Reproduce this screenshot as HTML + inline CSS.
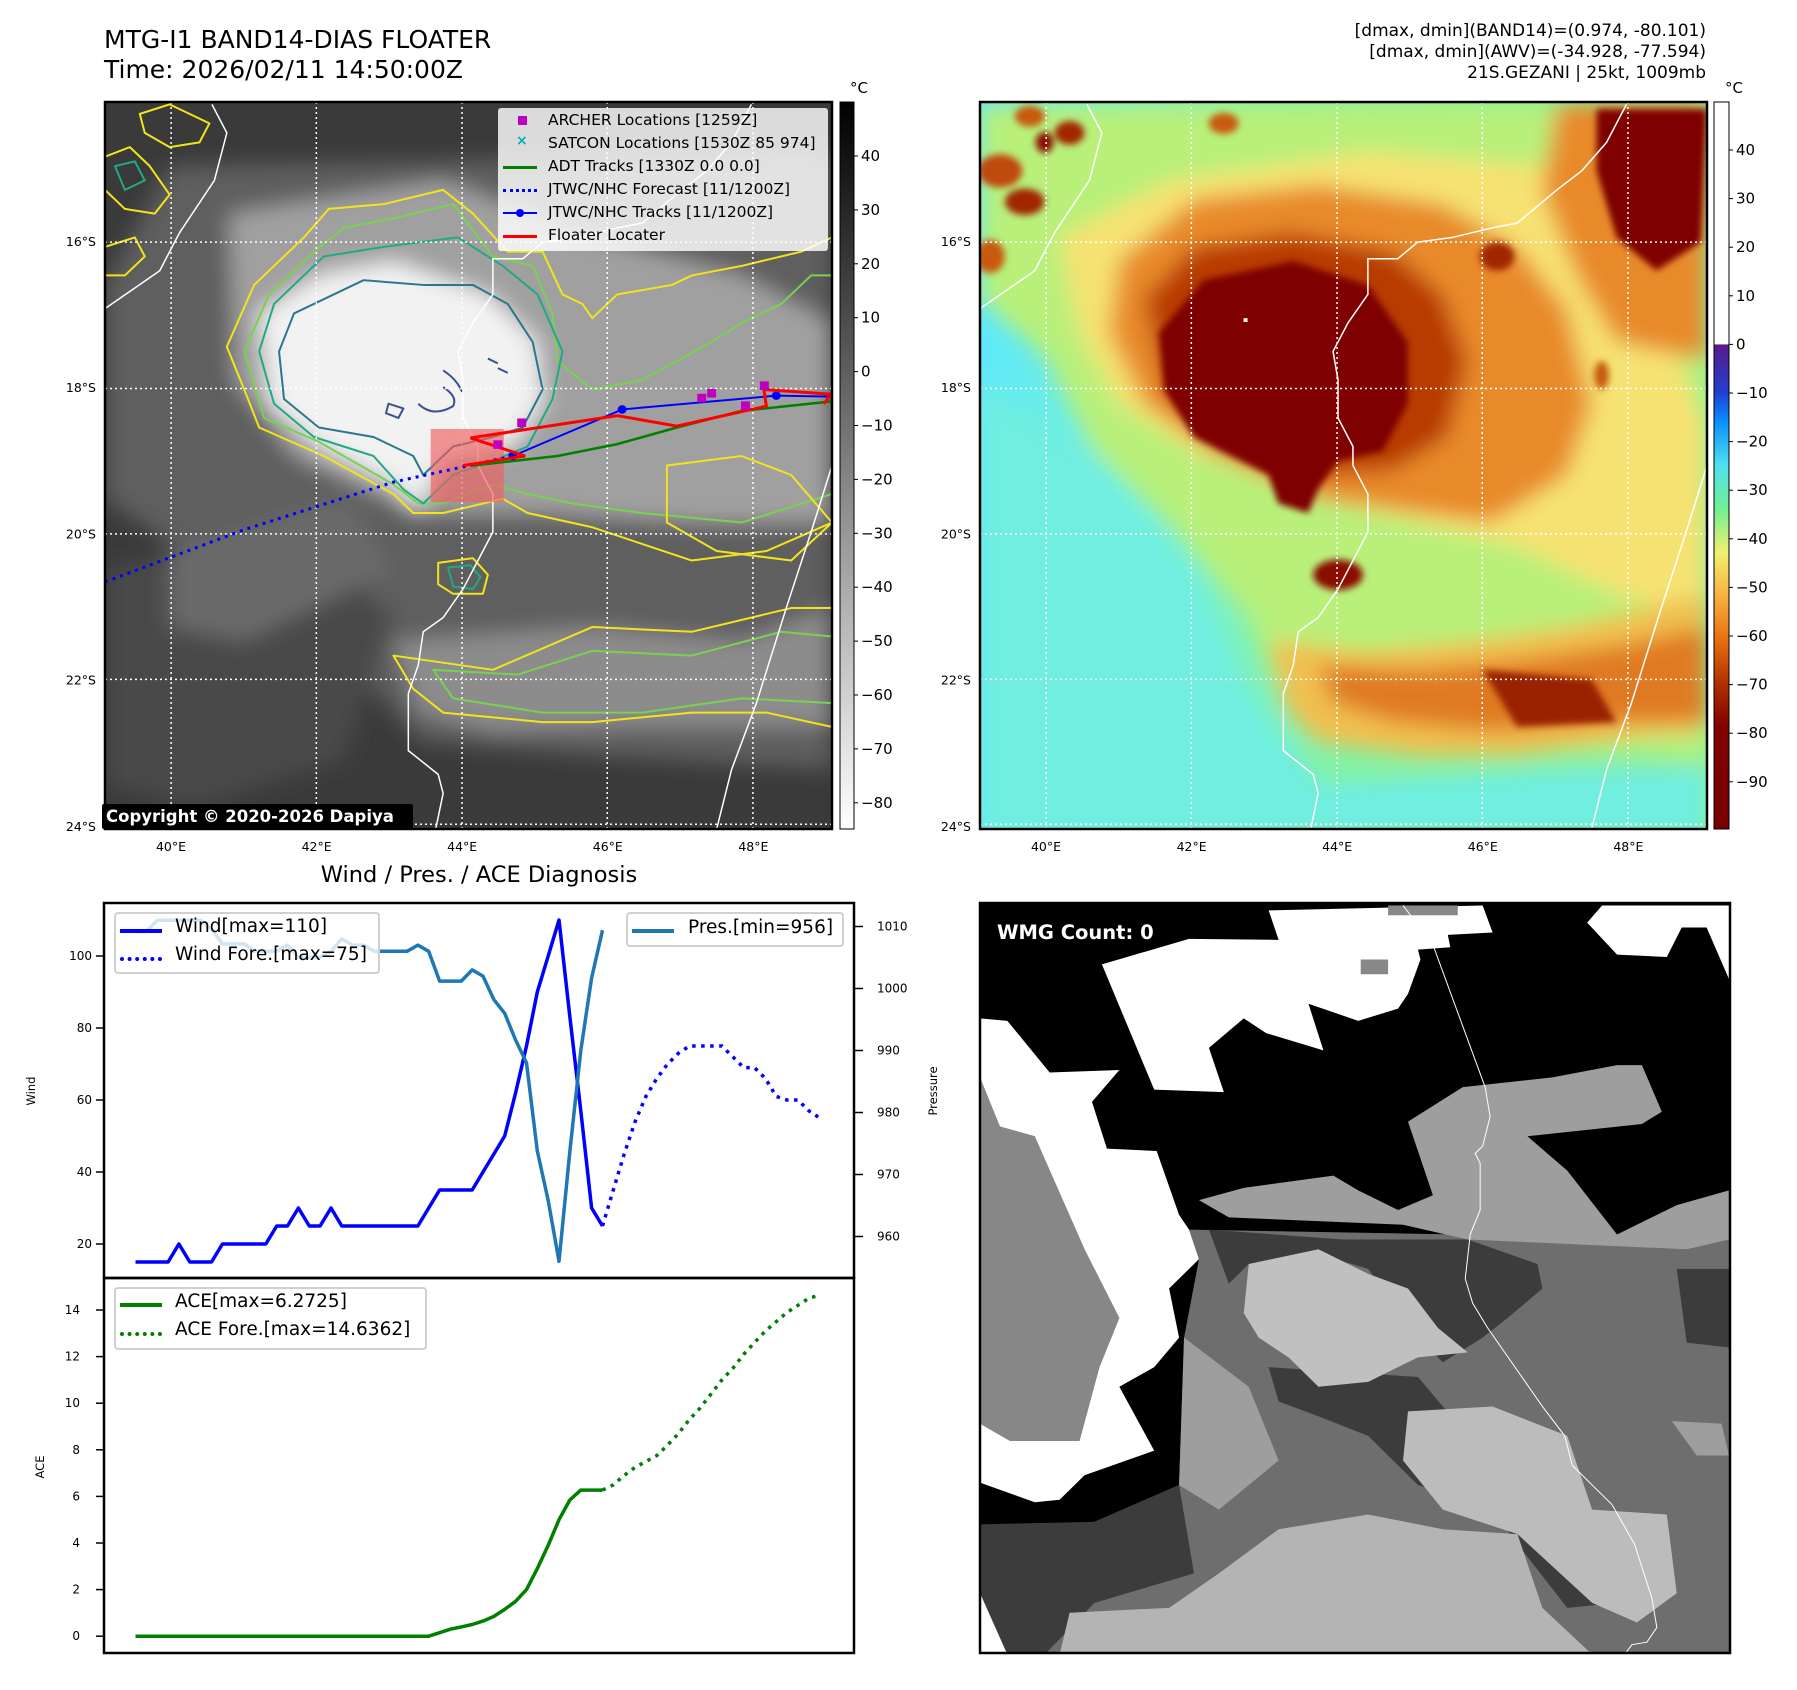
<!DOCTYPE html>
<html><head><meta charset="utf-8">
<style>
html,body{margin:0;padding:0;background:#fff;}
body{width:1797px;height:1690px;position:relative;overflow:hidden;font-family:"DejaVu Sans","Liberation Sans",sans-serif;}
svg text{font-family:"DejaVu Sans","Liberation Sans",sans-serif;}
.abs{position:absolute;white-space:nowrap;}
</style></head>
<body>
<div class="abs" style="left:104px;top:25px;font-size:25px;line-height:30px;color:#000;">MTG-I1 BAND14-DIAS FLOATER<br>Time: 2026/02/11 14:50:00Z</div>
<div class="abs" style="right:91px;top:21px;font-size:17px;line-height:21px;text-align:right;color:#000;">[dmax, dmin](BAND14)=(0.974, -80.101)<br>[dmax, dmin](AWV)=(-34.928, -77.594)<br>21S.GEZANI | 25kt, 1009mb</div>

<svg id="page" width="1797" height="1690" style="position:absolute;left:0;top:0" xmlns="http://www.w3.org/2000/svg">
<defs>
<filter id="bl" filterUnits="userSpaceOnUse" x="-200" y="-200" width="2000" height="2000"><feGaussianBlur stdDeviation="22"/></filter>
<filter id="bl2" filterUnits="userSpaceOnUse" x="-200" y="-200" width="2000" height="2000"><feGaussianBlur stdDeviation="7"/></filter>
<linearGradient id="grayBar" x1="0" y1="0" x2="0" y2="1"><stop offset="0" stop-color="#000"/><stop offset="1" stop-color="#fff"/></linearGradient>
<linearGradient id="awvBar" x1="0" y1="0" x2="0" y2="1">
<stop offset="0" stop-color="#fff"/><stop offset="0.333" stop-color="#fff"/>
<stop offset="0.334" stop-color="#5a1a8a"/><stop offset="0.40" stop-color="#2040d0"/>
<stop offset="0.44" stop-color="#0a90ff"/><stop offset="0.50" stop-color="#50e0f0"/>
<stop offset="0.56" stop-color="#70f090"/><stop offset="0.62" stop-color="#f0f070"/>
<stop offset="0.68" stop-color="#f8b040"/><stop offset="0.74" stop-color="#e87010"/>
<stop offset="0.80" stop-color="#b03000"/><stop offset="0.86" stop-color="#800000"/><stop offset="1" stop-color="#7a0000"/>
</linearGradient>
<linearGradient id="cyanL" x1="0" y1="0" x2="1" y2="0"><stop offset="0" stop-color="#5ce8ff"/><stop offset="0.45" stop-color="#70f4e0" stop-opacity="0.6"/><stop offset="1" stop-color="#80f0a0" stop-opacity="0"/></linearGradient>
</defs>

<!-- ============ LEFT MAP (IR) ============ -->
<g>
<svg x="105" y="102" width="727" height="727" viewBox="20 15 1462 1530" preserveAspectRatio="none" overflow="hidden">
<rect x="0" y="0" width="1600" height="1600" fill="#3a3a3a"/>
<g filter="url(#bl)">
<polygon fill="#5e5e5e" points="150,150 1482,120 1482,1420 1000,1390 650,1360 480,1150 200,980 20,850 20,400"/>
<polygon fill="#4a4a4a" points="20,1000 400,900 600,1100 500,1400 200,1500 20,1450"/>
<polygon fill="#a0a0a0" points="270,250 700,180 1000,300 1300,380 1482,480 1482,900 1200,900 900,880 650,880 400,760 280,600"/>
<polygon fill="#8c8c8c" points="600,1150 1000,1120 1300,1150 1482,1080 1482,1330 1100,1330 800,1340 650,1300"/>
<polygon fill="#6a6a6a" points="150,960 500,850 600,1000 300,1150 150,1120"/>
<polygon fill="#f2f2f2" points="330,460 450,380 600,350 790,420 890,520 900,650 840,740 700,770 650,880 600,820 450,740 350,650"/>
</g>
<g fill="none" stroke-width="2" stroke-linejoin="round">
<polygon stroke="#f2e41c" vector-effect="non-scaling-stroke" points="265,530 320,400 420,300 470,240 580,230 700,200 760,250 830,330 900,330 940,420 980,440 1000,470 1050,420 1160,400 1200,380 1300,360 1420,330 1482,300 1482,900 1350,960 1200,980 1000,910 870,880 820,850 700,880 640,880 600,840 460,760 330,700 300,620"/>
<polygon stroke="#7ad151" vector-effect="non-scaling-stroke" points="300,540 350,420 440,330 500,280 600,260 720,230 800,340 880,360 920,460 930,560 1000,620 1100,600 1240,520 1300,480 1380,440 1440,380 1482,380 1482,840 1300,900 1100,880 960,860 870,840 800,820 700,860 650,860 600,820 450,730 340,680"/>
<polygon stroke="#22a884" vector-effect="non-scaling-stroke" points="330,540 360,440 460,340 580,320 730,300 820,360 890,420 940,540 920,640 870,740 800,770 720,800 660,860 620,830 560,760 440,720 360,650"/>
<polygon stroke="#2a788e" vector-effect="non-scaling-stroke" points="370,540 400,460 480,420 540,390 660,400 760,400 830,440 880,520 900,620 860,700 800,720 720,740 660,800 640,760 560,720 450,700 380,640"/>
<path stroke="#3b528b" vector-effect="non-scaling-stroke" d="M590,650 l30,10 -10,20 -25,-10z M650,650 q30,30 70,5 q10,-20 -20,-40 M700,580 q30,20 40,50 M790,555 l20,10 M810,575 l20,10"/>
<polygon stroke="#f2e41c" vector-effect="non-scaling-stroke" points="600,1180 800,1210 1000,1120 1200,1130 1400,1080 1482,1080 1482,1330 1350,1300 1200,1300 1000,1320 900,1320 700,1300 640,1250"/>
<polygon stroke="#7ad151" vector-effect="non-scaling-stroke" points="680,1210 850,1220 1000,1170 1200,1180 1380,1130 1482,1140 1482,1280 1300,1270 1100,1300 900,1300 720,1270"/>
<polygon stroke="#f2e41c" vector-effect="non-scaling-stroke" points="690,985 760,975 790,1010 780,1050 720,1050 690,1030"/>
<polygon stroke="#22a884" vector-effect="non-scaling-stroke" points="710,995 755,990 775,1015 760,1040 720,1035"/>
<polygon stroke="#f2e41c" vector-effect="non-scaling-stroke" points="20,130 70,110 110,150 150,210 120,250 60,240 20,200"/>
<polygon stroke="#f2e41c" vector-effect="non-scaling-stroke" points="90,40 150,20 230,60 210,100 150,110 100,80"/>
<polygon stroke="#22a884" vector-effect="non-scaling-stroke" points="40,150 80,140 100,180 60,200"/>
<polygon stroke="#f2e41c" vector-effect="non-scaling-stroke" points="20,320 80,300 100,340 60,380 20,380"/>
<polygon stroke="#f2e41c" vector-effect="non-scaling-stroke" points="1150,780 1300,760 1400,800 1482,900 1400,980 1250,960 1150,900"/>
</g>
<g fill="none" stroke="#fff" stroke-width="1.5">
<polyline vector-effect="non-scaling-stroke" points="235,20 265,80 240,180 170,290 130,370 20,450"/>
<polyline vector-effect="non-scaling-stroke" points="1320,20 1280,100 1230,160 1180,200 1100,270 1050,280 970,300 900,310 860,345 800,345 800,420 760,480 730,540 740,600 740,680 770,740 770,780 800,840 800,920 770,980 740,1040 700,1100 660,1130 650,1200 630,1260 630,1380 690,1430 700,1470 685,1545"/>
<polyline vector-effect="non-scaling-stroke" points="1482,780 1440,920 1390,1080 1330,1280 1280,1420 1250,1545"/>
</g>
<g stroke="#fff" stroke-width="1.5" stroke-dasharray="2 3">
<line vector-effect="non-scaling-stroke" x1="153" y1="15" x2="153" y2="1545"/><line vector-effect="non-scaling-stroke" x1="445" y1="15" x2="445" y2="1545"/><line vector-effect="non-scaling-stroke" x1="738" y1="15" x2="738" y2="1545"/><line vector-effect="non-scaling-stroke" x1="1030" y1="15" x2="1030" y2="1545"/><line vector-effect="non-scaling-stroke" x1="1323" y1="15" x2="1323" y2="1545"/>
<line vector-effect="non-scaling-stroke" x1="20" y1="310" x2="1482" y2="310"/><line vector-effect="non-scaling-stroke" x1="20" y1="618" x2="1482" y2="618"/><line vector-effect="non-scaling-stroke" x1="20" y1="924" x2="1482" y2="924"/><line vector-effect="non-scaling-stroke" x1="20" y1="1230" x2="1482" y2="1230"/><line vector-effect="non-scaling-stroke" x1="20" y1="1535" x2="1482" y2="1535"/>
</g>
<rect x="675" y="703" width="147" height="154" fill="#f06060" fill-opacity="0.65"/>
<polyline points="20,1025 300,915 600,815 840,760" fill="none" stroke="#0000ff" stroke-width="3" stroke-dasharray="3 5" vector-effect="non-scaling-stroke"/>
<polyline points="760,780 930,760 1050,735 1170,700 1300,665 1482,645" fill="none" stroke="#008000" stroke-width="2.5" vector-effect="non-scaling-stroke"/>
<polyline points="840,760 1060,662 1370,633 1482,635" fill="none" stroke="#0000ff" stroke-width="2" vector-effect="non-scaling-stroke"/>
<g fill="#0000ff"><ellipse cx="840" cy="760" rx="9" ry="9"/><ellipse cx="1060" cy="662" rx="9" ry="9"/><ellipse cx="1370" cy="633" rx="9" ry="9"/></g>
<polyline points="740,780 865,760 755,722 1050,675 1170,697 1350,655 1345,620 1482,630 1465,650" fill="none" stroke="#ff0000" stroke-width="3" vector-effect="non-scaling-stroke"/>
<g fill="#c000c0"><rect x="849" y="681" width="18" height="18"/><rect x="801" y="727" width="18" height="18"/><rect x="1211" y="629" width="18" height="18"/><rect x="1231" y="619" width="18" height="18"/><rect x="1337" y="603" width="18" height="18"/><rect x="1299" y="645" width="18" height="18"/></g>
</svg>
<rect x="105" y="102" width="727" height="727" fill="none" stroke="#000" stroke-width="2.5"/>
</g>

<!-- ============ RIGHT MAP (AWV) ============ -->
<g>
<svg x="980" y="102" width="727" height="727" viewBox="20 15 1462 1530" preserveAspectRatio="none" overflow="hidden">
<rect x="0" y="0" width="1600" height="1600" fill="#88f09a"/>
<rect x="0" y="0" width="1000" height="1600" fill="url(#cyanL)"/>
<g filter="url(#bl)">
<polygon fill="#70eee0" points="20,600 250,760 450,1000 560,1250 700,1450 1200,1420 1482,1420 1482,1560 20,1560"/>
<polygon fill="#b8f07a" points="20,20 1482,20 1482,1400 1300,1380 1000,1380 700,1360 620,1250 560,1100 400,900 250,750 150,550 20,430"/>
<polygon fill="#f6e272" points="180,300 400,180 800,120 1150,150 1300,300 1400,500 1482,700 1482,1100 1300,1050 1100,950 900,900 700,850 450,750 300,650 220,500"/>
<polygon fill="#e88a2a" points="300,350 450,220 700,190 950,230 1100,320 1200,450 1250,650 1200,800 1050,900 900,880 700,850 500,760 350,650 280,500"/>
<polygon fill="#b83a05" points="350,430 450,320 650,290 850,330 950,420 1000,560 960,720 850,790 700,800 500,740 400,640"/>
<polygon fill="#e88a2a" points="1180,20 1482,20 1482,560 1300,520 1220,380 1150,200"/>
<polygon fill="#f0c050" points="600,1150 800,1170 1000,1150 1200,1120 1482,1050 1482,1340 1350,1350 1100,1390 900,1390 700,1360 640,1300"/>
<polygon fill="#e07a20" points="700,1200 900,1210 1100,1190 1300,1160 1482,1120 1482,1320 1300,1320 1050,1340 850,1320 730,1280"/>
</g>
<g filter="url(#bl2)">
<polygon fill="#7e0000" points="380,500 470,390 650,350 800,400 880,520 880,650 830,750 740,770 700,830 680,880 620,860 600,800 450,720 390,620"/>
<polygon fill="#7e0000" points="1260,30 1482,30 1470,310 1380,370 1300,300 1260,160"/>
<polygon fill="#9a2000" points="1030,1210 1250,1230 1300,1320 1100,1330"/>
<ellipse fill="#8a1000" cx="740" cy="1010" rx="50" ry="32"/>
<ellipse fill="#a02800" cx="200" cy="80" rx="30" ry="25"/><ellipse fill="#8a1000" cx="150" cy="100" rx="18" ry="22"/>
<ellipse fill="#c04a10" cx="60" cy="160" rx="45" ry="35"/><ellipse fill="#a02800" cx="110" cy="225" rx="40" ry="28"/>
<ellipse fill="#c85a10" cx="40" cy="340" rx="30" ry="35"/><ellipse fill="#c85a10" cx="120" cy="45" rx="30" ry="22"/>
<ellipse fill="#c85a10" cx="510" cy="60" rx="30" ry="22"/>
<ellipse fill="#a02800" cx="1060" cy="340" rx="35" ry="30"/>
<ellipse fill="#c85a10" cx="1270" cy="590" rx="15" ry="30"/>
</g>
<rect x="550" y="470" width="8" height="8" fill="#fff"/>
<g fill="none" stroke="#fff" stroke-width="1.5">
<polyline vector-effect="non-scaling-stroke" points="235,20 265,80 240,180 170,290 130,370 20,450"/>
<polyline vector-effect="non-scaling-stroke" points="1320,20 1280,100 1230,160 1180,200 1100,270 1050,280 970,300 900,310 860,345 800,345 800,420 760,480 730,540 740,600 740,680 770,740 770,780 800,840 800,920 770,980 740,1040 700,1100 660,1130 650,1200 630,1260 630,1380 690,1430 700,1470 685,1545"/>
<polyline vector-effect="non-scaling-stroke" points="1482,780 1440,920 1390,1080 1330,1280 1280,1420 1250,1545"/>
</g>
<g stroke="#fff" stroke-width="1.5" stroke-dasharray="2 3">
<line vector-effect="non-scaling-stroke" x1="153" y1="15" x2="153" y2="1545"/><line vector-effect="non-scaling-stroke" x1="445" y1="15" x2="445" y2="1545"/><line vector-effect="non-scaling-stroke" x1="738" y1="15" x2="738" y2="1545"/><line vector-effect="non-scaling-stroke" x1="1030" y1="15" x2="1030" y2="1545"/><line vector-effect="non-scaling-stroke" x1="1323" y1="15" x2="1323" y2="1545"/>
<line vector-effect="non-scaling-stroke" x1="20" y1="310" x2="1482" y2="310"/><line vector-effect="non-scaling-stroke" x1="20" y1="618" x2="1482" y2="618"/><line vector-effect="non-scaling-stroke" x1="20" y1="924" x2="1482" y2="924"/><line vector-effect="non-scaling-stroke" x1="20" y1="1230" x2="1482" y2="1230"/><line vector-effect="non-scaling-stroke" x1="20" y1="1535" x2="1482" y2="1535"/>
</g>
</svg>
<rect x="980" y="102" width="727" height="727" fill="none" stroke="#000" stroke-width="2.5"/>
</g>

<!-- colorbars -->
<rect x="840" y="102" width="14" height="727" fill="url(#grayBar)" stroke="#000" stroke-width="1"/>
<rect x="1714" y="102" width="15" height="727" fill="url(#awvBar)" stroke="#000" stroke-width="1"/>
<text x="850" y="93" font-size="15">°C</text>
<text x="1725" y="93" font-size="15">°C</text>
<g id="cbTicks" font-size="15"></g>
<g id="mapTicks" font-size="12.5"></g>

<!-- ============ BOTTOM RIGHT (WMG) ============ -->
<g>
<svg x="980" y="903" width="750" height="750" viewBox="20 15 1507 1527" preserveAspectRatio="none" overflow="hidden">
<rect x="0" y="0" width="1600" height="1600" fill="#000"/>
<polygon fill="#6e6e6e" points="440,680 1525,700 1525,1545 75,1545 20,1420 20,1300 120,1300 250,1275 420,1200 430,900 460,740"/>
<polygon fill="#878787" points="20,370 60,470 130,490 230,720 300,860 260,960 220,1110 80,1110 20,1075"/>
<polygon fill="#9e9e9e" points="460,620 550,595 730,570 780,600 860,640 930,610 880,460 990,390 1170,370 1300,345 1350,345 1390,440 1350,465 1120,490 1200,560 1300,690 1420,630 1525,600 1525,700 1440,720 1000,700 870,670 520,655"/>
<polygon fill="#9e9e9e" points="430,900 560,1000 620,1150 500,1250 420,1200"/>
<polygon fill="#3c3c3c" points="480,680 750,700 1000,700 1140,750 1150,800 1080,860 1030,900 950,950 900,900 800,760 700,730 560,750 520,790"/>
<polygon fill="#3c3c3c" points="1420,760 1525,760 1525,920 1440,910"/>
<polygon fill="#3c3c3c" points="600,960 900,980 1000,1100 1200,1160 1250,1250 1300,1440 1200,1450 1100,1320 1050,1250 900,1200 800,1100 700,1060 620,1030"/>
<polygon fill="#3c3c3c" points="20,1280 250,1275 420,1200 450,1380 250,1440 150,1545 75,1545 20,1420"/>
<polygon fill="#c0c0c0" points="560,750 700,720 800,770 880,800 940,880 1000,930 900,940 800,990 700,1000 640,940 580,900 550,850"/>
<polygon fill="#b4b4b4" points="620,1290 800,1260 950,1290 1100,1300 1150,1450 1250,1545 500,1545 180,1545 200,1460 400,1450 500,1380"/>
<polygon fill="#bcbcbc" points="880,1050 1050,1040 1200,1100 1250,1250 1400,1260 1420,1420 1340,1480 1250,1440 1100,1300 950,1250 870,1150"/>
<polygon fill="#9e9e9e" points="1410,1070 1510,1075 1525,1140 1460,1140"/>
<polygon fill="#fff" points="600,30 1030,20 1050,75 960,80 965,105 900,110 905,130 880,200 860,230 780,255 680,220 710,315 595,280 550,250 480,310 510,400 370,395 265,140 440,88 620,90"/>
<polygon fill="#fff" points="1270,20 1525,20 1525,170 1480,65 1430,65 1400,125 1300,120 1240,55"/>
<polygon fill="#fff" points="20,250 75,255 160,360 300,355 245,420 275,515 375,520 420,650 440,680 460,740 400,800 420,900 370,960 300,1000 370,1130 230,1180 180,1230 130,1235 20,1195 20,1075 80,1110 220,1110 260,960 300,860 230,720 130,490 60,470 20,370"/>
<polygon fill="#fff" points="20,1420 75,1545 20,1545"/>
<rect x="785" y="130" width="55" height="30" fill="#888"/>
<rect x="840" y="20" width="140" height="20" fill="#888"/>
<polyline fill="none" stroke="#fff" stroke-width="1" vector-effect="non-scaling-stroke" points="870,20 930,100 1035,390 1045,450 1030,510 1015,525 1025,545 1025,640 1005,690 995,780 1010,830 1040,880 1150,1040 1195,1100 1210,1160 1290,1240 1335,1320 1370,1430 1380,1490 1360,1520 1330,1525 1315,1545"/>
</svg>
<rect x="980" y="903" width="750" height="750" fill="none" stroke="#000" stroke-width="2.5"/>
<text x="997" y="939" font-size="19.5" font-weight="bold" fill="#fff">WMG Count: 0</text>
</g>

<!-- ============ DIAGNOSIS CHART ============ -->
<text x="479" y="882" font-size="22.5" text-anchor="middle">Wind / Pres. / ACE Diagnosis</text>
<g id="diag"></g>
<rect x="104" y="903" width="750" height="375" fill="none" stroke="#000" stroke-width="2.5"/>
<rect x="104" y="1278" width="750" height="375" fill="none" stroke="#000" stroke-width="2.5"/>
<text transform="translate(35,1091) rotate(-90)" font-size="11.5" text-anchor="middle">Wind</text>
<text transform="translate(937,1091) rotate(-90)" font-size="11.5" text-anchor="middle">Pressure</text>
<text transform="translate(44,1467) rotate(-90)" font-size="11.5" text-anchor="middle">ACE</text>
</svg>

<!-- map legend -->
<div class="abs" style="left:498px;top:108px;width:330px;height:143px;background:rgba(255,255,255,0.82);border-radius:3px;font-size:15.5px;">
<div style="position:absolute;left:20px;top:8px;width:9px;height:9px;background:#c000c0"></div>
<div style="position:absolute;left:50px;top:3px;">ARCHER Locations [1259Z]</div>
<div style="position:absolute;left:18px;top:25px;color:#00b0b0;font-size:14px;font-weight:bold">×</div>
<div style="position:absolute;left:50px;top:26px;">SATCON Locations [1530Z 85 974]</div>
<div style="position:absolute;left:5px;top:58px;width:34px;height:3px;background:#008000"></div>
<div style="position:absolute;left:50px;top:49px;">ADT Tracks [1330Z 0.0 0.0]</div>
<div style="position:absolute;left:5px;top:81px;width:34px;height:0;border-top:3px dotted #0000ff"></div>
<div style="position:absolute;left:50px;top:72px;">JTWC/NHC Forecast [11/1200Z]</div>
<div style="position:absolute;left:5px;top:104px;width:34px;height:2px;background:#0000ff"></div>
<div style="position:absolute;left:18px;top:101px;width:8px;height:8px;border-radius:50%;background:#0000ff"></div>
<div style="position:absolute;left:50px;top:95px;">JTWC/NHC Tracks [11/1200Z]</div>
<div style="position:absolute;left:5px;top:127px;width:34px;height:3px;background:#ff0000"></div>
<div style="position:absolute;left:50px;top:118px;">Floater Locater</div>
</div>
<div class="abs" style="left:102px;top:804px;width:311px;height:25px;background:#000;color:#fff;font-weight:bold;font-size:16.5px;line-height:25px;padding-left:4px;box-sizing:border-box;border-radius:2px;">Copyright © 2020-2026 Dapiya</div>

<!-- chart legends -->
<div class="abs" style="left:114px;top:912px;width:266px;height:62px;background:rgba(255,255,255,0.8);border:2px solid #d0d0d0;border-radius:4px;box-sizing:border-box;font-size:18.5px;">
<div style="position:absolute;left:4px;top:15px;width:42px;height:4px;background:#0000ff"></div>
<div style="position:absolute;left:59px;top:2px;">Wind[max=110]</div>
<div style="position:absolute;left:4px;top:43px;width:42px;height:0;border-top:4px dotted #0000ff"></div>
<div style="position:absolute;left:59px;top:30px;">Wind Fore.[max=75]</div>
</div>
<div class="abs" style="left:626px;top:912px;width:218px;height:35px;background:rgba(255,255,255,0.8);border:2px solid #d0d0d0;border-radius:4px;box-sizing:border-box;font-size:18.5px;">
<div style="position:absolute;left:4px;top:15px;width:42px;height:4px;background:#1f77b4"></div>
<div style="position:absolute;left:60px;top:3px;">Pres.[min=956]</div>
</div>
<div class="abs" style="left:114px;top:1287px;width:313px;height:63px;background:rgba(255,255,255,0.8);border:2px solid #d0d0d0;border-radius:4px;box-sizing:border-box;font-size:18.5px;">
<div style="position:absolute;left:4px;top:14px;width:42px;height:4px;background:#008000"></div>
<div style="position:absolute;left:59px;top:2px;">ACE[max=6.2725]</div>
<div style="position:absolute;left:4px;top:43px;width:42px;height:0;border-top:4px dotted #008000"></div>
<div style="position:absolute;left:59px;top:30px;">ACE Fore.[max=14.6362]</div>
</div>

<script>
// ---- chart data ----
const windObs = [15,15,15,15,20,15,15,15,20,20,20,20,20,25,25,30,25,25,30,25,25,25,25,25,25,25,25,30,35,35,35,35,40,45,50,62,75,90,100,110,83,57,30,25];
const windFcst = [25,35,45,54,61,66,70,73,75,75,75,75,72,69,69,66,61,60,60,57,55];
const presObs = [1009.2,1009.2,1011,1011,1011,1011,1011,1009.6,1007.2,1007.2,1007.2,1006,1006,1006,1007,1005,1005,1005,1006,1008,1007,1007,1006,1006,1006,1006,1007,1006,1001.2,1001.2,1001.2,1003,1002,998.2,996,991.7,988,973.8,965.8,956,973.8,990,1001.7,1009.4];
const aceObs = [0,0,0,0,0,0,0,0,0,0,0,0,0,0,0,0,0,0,0,0,0,0,0,0,0,0,0,0,0.15,0.3,0.4,0.5,0.65,0.85,1.15,1.5,2.0,2.9,3.9,5.0,5.85,6.27,6.27,6.27];
const aceFcst = [6.27,6.5,6.9,7.25,7.5,7.75,8.2,8.7,9.3,9.8,10.4,11.0,11.5,12.1,12.6,13.1,13.5,13.9,14.2,14.5,14.64];
const windTicks = [20,40,60,80,100];
const presTicks = [960,970,980,990,1000,1010];
const aceTicks = [0,2,4,6,8,10,12,14];
const irCbTicks = [40,30,20,10,0,-10,-20,-30,-40,-50,-60,-70,-80];
const awvCbTicks = [40,30,20,10,0,-10,-20,-30,-40,-50,-60,-70,-80,-90];
const latLabels = ["16°S","18°S","20°S","22°S","24°S"];
const latValues = [-16,-18,-20,-22,-24];
const lonLabels = ["40°E","42°E","44°E","46°E","48°E"];
const lonValues = [40,42,44,46,48];

const NS = "http://www.w3.org/2000/svg";
const fcStart = windObs.length - 1;
function xS(i){ return 135.5 + i*10.86; }
function wY(v){ return 956 + (100 - v)*3.6; }
function pY(v){ return 926.5 + (1010 - v)*6.2; }
function aY(v){ return 1636.2 - v*23.3; }
function irY(v){ return 156 + (40 - v)*5.39; }
function awvY(v){ return 150 + (40 - v)*4.86; }
function latY(v){ return 242 + (-16 - v)*73.1; }
function lonX(v){ return 171 + (v - 40)*72.8; }

function mk(tag, attrs, parent){
  const e = document.createElementNS(NS, tag);
  for (const k in attrs) e.setAttribute(k, attrs[k]);
  parent.appendChild(e);
  return e;
}
function pts(arr, off, yf){ return arr.map((v,i)=> xS(i+off).toFixed(1)+","+yf(v).toFixed(1)).join(" "); }

const diag = document.getElementById("diag");
windTicks.forEach(v=>{
  const l = mk("line",{x1:96,x2:104,y1:wY(v),y2:wY(v),stroke:"#000","stroke-width":1.5},diag);
  
  
  const t = mk("text",{x:92,y:wY(v)+4,"font-size":12,"text-anchor":"end"},diag);
  t.textContent = v;
  
  
});
presTicks.forEach(v=>{
  const l = mk("line",{x1:854,x2:863,y1:pY(v),y2:pY(v),stroke:"#000","stroke-width":1.5},diag);
  
  
  const t = mk("text",{x:877,y:pY(v)+4,"font-size":12},diag);
  t.textContent = v;
  
  
});
aceTicks.forEach(v=>{
  const l = mk("line",{x1:96,x2:104,y1:aY(v),y2:aY(v),stroke:"#000","stroke-width":1.5},diag);
  
  
  const t = mk("text",{x:80,y:aY(v)+4,"font-size":12,"text-anchor":"end"},diag);
  t.textContent = v;
  
  
});
let s;
s = mk("polyline",{points:pts(windObs,0,wY),fill:"none",stroke:"#0000ff","stroke-width":3.5,"stroke-linejoin":"round"},diag);


s = mk("polyline",{points:pts(windFcst,fcStart,wY),fill:"none",stroke:"#0000ff","stroke-width":3.5,"stroke-dasharray":"3.5 5.5"},diag);


s = mk("polyline",{points:pts(presObs,0,pY),fill:"none",stroke:"#1f77b4","stroke-width":3.5,"stroke-linejoin":"round"},diag);


s = mk("polyline",{points:pts(aceObs,0,aY),fill:"none",stroke:"#008000","stroke-width":3.5,"stroke-linejoin":"round"},diag);


s = mk("polyline",{points:pts(aceFcst,fcStart,aY),fill:"none",stroke:"#008000","stroke-width":3.5,"stroke-dasharray":"3.5 5.5"},diag);



const cb = document.getElementById("cbTicks");
irCbTicks.forEach(v=>{
  const l = mk("line",{x1:854,x2:858,y1:irY(v),y2:irY(v),stroke:"#000"},cb);
  
  
  const t = mk("text",{x:861,y:irY(v)+5},cb);
  t.textContent = v < 0 ? "\u2212"+Math.abs(v) : v;
  
  
});
awvCbTicks.forEach(v=>{
  const l = mk("line",{x1:1729,x2:1733,y1:awvY(v),y2:awvY(v),stroke:"#000"},cb);
  
  
  const t = mk("text",{x:1736,y:awvY(v)+5},cb);
  t.textContent = v < 0 ? "\u2212"+Math.abs(v) : v;
  
  
});
const mt = document.getElementById("mapTicks");
[0,875].forEach(off=>{
  latValues.forEach((v,i)=>{
    const t = mk("text",{x:96+off,y:latY(v)+4,"text-anchor":"end"},mt);
    t.textContent = latLabels[i];
    
    
  });
  lonValues.forEach((v,i)=>{
    const t = mk("text",{x:lonX(v)+off,y:851,"text-anchor":"middle"},mt);
    t.textContent = lonLabels[i];
    
    
  });
});
</script>
</body></html>
